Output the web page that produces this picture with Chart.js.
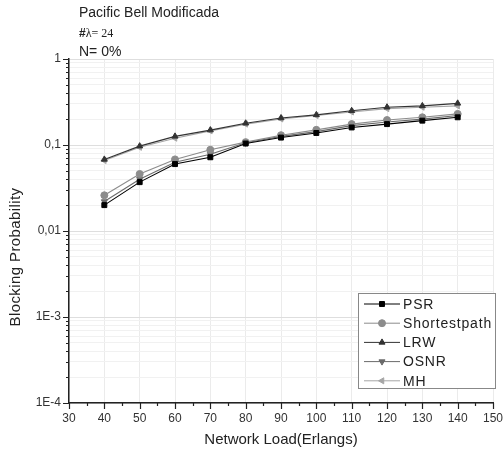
<!DOCTYPE html>
<html>
<head>
<meta charset="utf-8">
<script src="https://cdn.jsdelivr.net/npm/chart.js@4.4.0/dist/chart.umd.min.js"></script>
<style>
  html, body { margin: 0; padding: 0; background: #fff; }
  #wrap { width: 504px; height: 454px; }
</style>
</head>
<body>
<div id="wrap"><canvas id="chart"></canvas></div>
<script>
// data
const loads = [40, 50, 60, 70, 80, 90, 100, 110, 120, 130, 140]
const psr = [0.020, 0.037, 0.060, 0.072, 0.104, 0.122, 0.138, 0.160, 0.175, 0.192, 0.210]
const shortestpath = [0.026, 0.046, 0.068, 0.088, 0.108, 0.130, 0.150, 0.175, 0.195, 0.210, 0.230]
const lrw = [0.068, 0.097, 0.126, 0.149, 0.179, 0.206, 0.224, 0.250, 0.275, 0.285, 0.305]
const osnr = [0.022, 0.040, 0.063, 0.078, 0.106, 0.126, 0.143, 0.168, 0.185, 0.200, 0.220]
const mh = [0.066, 0.094, 0.120, 0.146, 0.175, 0.201, 0.220, 0.242, 0.265, 0.275, 0.285]

const yTickValues = [1e-4, 1e-3, 1e-2, 1e-1, 1]
const yTickLabels = ["1E-4", "1E-3", "0,01", "0,1", "1"]
const xMin = 30, xMax = 150, xStep = 10

const headerLines = ["Pacific Bell Modificada", "#", "λ= 24", "N= 0%"]
const yTitle = "Blocking Probability"
const xTitle = "Network Load(Erlangs)"

const FONT = "Arial, 'Liberation Sans', sans-serif"

function series(label, values, color, style, rotation) {
    return {
        label: label,
        data: loads.map((x, i) => ({ x: x, y: values[i] })),
        borderColor: color,
        backgroundColor: color,
        borderWidth: 1.1,
        pointStyle: style,
        rotation: rotation,
        pointRadius: 3.5,
        pointBorderWidth: 1,
        tension: 0
    }
}

const datasets = [
    series("PSR", psr, "#000000", "rect", 0),
    series("Shortestpath", shortestpath, "#8c8c8c", "circle", 0),
    series("LRW", lrw, "#333333", "triangle", 0),
    series("OSNR", osnr, "#6a6a6a", "triangle", 180),
    series("MH", mh, "#a6a6a6", "triangle", -90)
]

function yLabelFor(v) {
    for (let k = 0; k < yTickValues.length; k++) {
        if (Math.abs(Math.log10(v) - Math.log10(yTickValues[k])) < 1e-6) return yTickLabels[k]
    }
    return ""
}

// small/large tick marks drawn through the scales
const tickMarks = {
    id: "tickMarks",
    afterDraw(chart) {
        const ctx = chart.ctx
        const xs = chart.scales.x, ys = chart.scales.y
        const area = chart.chartArea
        ctx.save()
        ctx.strokeStyle = "#222"
        ctx.lineWidth = 1.2
        ctx.beginPath()
        for (let v = xMin; v <= xMax; v += xStep / 2) {
            const px = Math.round(xs.getPixelForValue(v)) + 0.5
            const len = (v - xMin) % xStep === 0 ? 6 : 3
            ctx.moveTo(px, area.bottom)
            ctx.lineTo(px, area.bottom + len)
        }
        ys.ticks.forEach(t => {
            const py = Math.round(ys.getPixelForValue(t.value)) + 0.5
            const len = t.major ? 6 : 3
            ctx.moveTo(area.left, py)
            ctx.lineTo(area.left - len, py)
        })
        ctx.stroke()
        ctx.restore()
    }
}

// header text above the plot + y title (sits below centre in the original)
const header = {
    id: "header",
    afterDraw(chart) {
        const ctx = chart.ctx
        const x0 = chart.chartArea.left + 10
        ctx.save()
        ctx.fillStyle = "#222"
        ctx.textBaseline = "alphabetic"
        ctx.font = "14px " + FONT
        ctx.fillText(headerLines[0], x0, 17)
        ctx.font = "bold 12px " + FONT
        ctx.fillText(headerLines[1], x0, 37)
        const w = ctx.measureText(headerLines[1]).width
        ctx.font = "12px 'Liberation Serif', 'DejaVu Serif', serif"
        ctx.fillText(headerLines[2], x0 + w, 37)
        ctx.font = "14px " + FONT
        ctx.fillText(headerLines[3], x0, 56)

        ctx.translate(16, 257)
        ctx.rotate(-Math.PI / 2)
        ctx.font = "15px " + FONT
        ctx.letterSpacing = "0.4px"
        ctx.textAlign = "center"
        ctx.textBaseline = "middle"
        ctx.fillText(yTitle, 0, 0)
        ctx.restore()
    }
}

// boxed legend inside the plot, bottom right
const boxLegend = {
    id: "boxLegend",
    afterDatasetsDraw(chart) {
        const ctx = chart.ctx
        const area = chart.chartArea
        const w = 137, h = 95, row = 19.2
        const left = area.right + 2 - w
        const top = area.bottom - 15 - h
        ctx.save()
        ctx.fillStyle = "#fff"
        ctx.fillRect(left, top, w, h)
        ctx.strokeStyle = "#888"
        ctx.lineWidth = 1
        ctx.strokeRect(left + 0.5, top + 0.5, w, h)
        ctx.font = "14px " + FONT
        ctx.letterSpacing = "0.8px"
        ctx.textBaseline = "middle"
        chart.data.datasets.forEach((ds, i) => {
            const y = top + 11 + i * row
            ctx.strokeStyle = ds.borderColor
            ctx.fillStyle = ds.borderColor
            ctx.lineWidth = 1
            ctx.beginPath()
            ctx.moveTo(left + 6, y)
            ctx.lineTo(left + 42, y)
            ctx.stroke()
            Chart.helpers.drawPoint(ctx, {
                pointStyle: ds.pointStyle, radius: 3.5, rotation: ds.rotation, borderWidth: 1
            }, left + 24, y)
            ctx.fillStyle = "#222"
            ctx.fillText(ds.label, left + 45, y + 1)
        })
        ctx.restore()
    }
}

new Chart(document.getElementById("chart"), {
    type: "line",
    data: { datasets: datasets },
    plugins: [tickMarks, header, boxLegend],
    options: {
        responsive: true,
        maintainAspectRatio: false,
        animation: false,
        layout: { padding: { top: 59, right: 11, left: 0, bottom: 0 } },
        plugins: {
            legend: { display: false },
            tooltip: { enabled: false }
        },
        scales: {
            x: {
                type: "linear",
                min: xMin,
                max: xMax,
                afterFit: s => { s.height = 51; s.paddingLeft = 0; s.paddingRight = 0 },
                ticks: {
                    stepSize: xStep,
                    padding: 8,
                    color: "#333",
                    font: { family: FONT, size: 12 },
                    maxRotation: 0
                },
                grid: { color: "#ebebeb", drawTicks: false },
                border: { display: true, color: "#222", width: 1.5 },
                title: {
                    display: true,
                    text: xTitle,
                    color: "#222",
                    font: { family: FONT, size: 15 },
                    padding: { top: 0, bottom: 5 }
                }
            },
            y: {
                type: "logarithmic",
                min: yTickValues[0],
                max: yTickValues[yTickValues.length - 1],
                afterFit: s => { s.width = 69; s.paddingTop = 0; s.paddingBottom = 0 },
                afterBuildTicks: s => {
                    const ticks = []
                    for (let k = 0; k < yTickValues.length; k++) {
                        ticks.push({ value: yTickValues[k], major: true })
                        if (k < yTickValues.length - 1) {
                            for (let m = 2; m <= 9; m++) ticks.push({ value: m * yTickValues[k], major: false })
                        }
                    }
                    s.ticks = ticks
                },
                ticks: {
                    autoSkip: false,
                    padding: 8,
                    color: "#333",
                    font: { family: FONT, size: 12 },
                    callback: v => yLabelFor(v)
                },
                grid: {
                    drawTicks: false,
                    color: c => (c.tick && c.tick.major) ? "#dedede" : "#f1f1f1"
                },
                border: { display: true, color: "#222", width: 1.5 }
            }
        }
    }
})
</script>
</body>
</html>
